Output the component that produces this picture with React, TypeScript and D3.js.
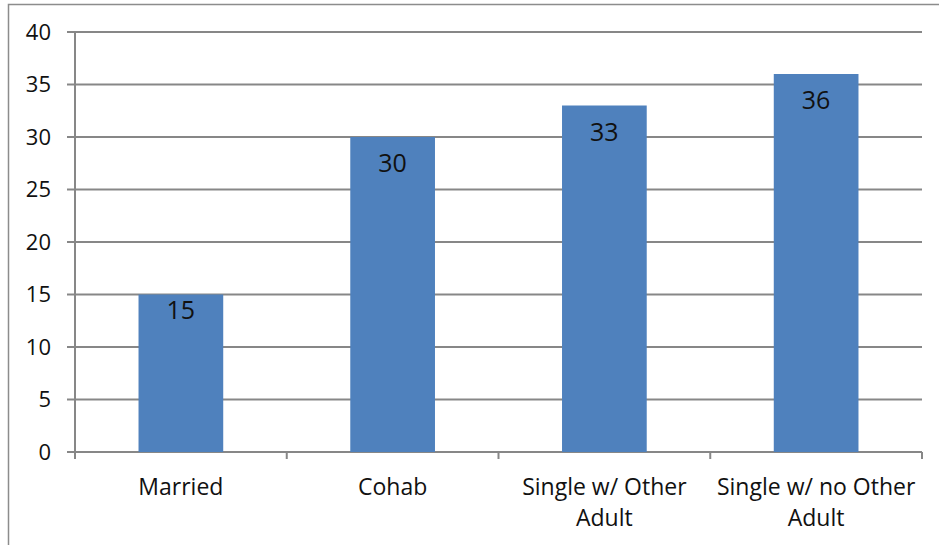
import React, { useEffect, useRef } from 'react';
import * as d3 from 'd3';

const categories = ['Married', 'Cohab', 'Single w/ Other Adult', 'Single w/ no Other Adult'];
const categoryLines = [['Married'], ['Cohab'], ['Single w/ Other', 'Adult'], ['Single w/ no Other', 'Adult']];
const values = [15, 30, 33, 36];
const yTicks = [0, 5, 10, 15, 20, 25, 30, 35, 40];

const W = 939;
const H = 545;
const FONT = '"Open Sans", "Noto Sans", sans-serif';

const App: React.FC = () => {
  const svgRef = useRef<SVGSVGElement>(null);

  useEffect(() => {
    if (!svgRef.current) return;
    const svg = d3.select(svgRef.current);
    svg.selectAll('*').remove();

    const left = 75;
    const right = 922;
    const top = 32;
    const bottom = 452;
    const axisColor = '#878787';

    // outer chart frame (runs off the right / bottom of the picture)
    svg.append('rect')
      .attr('x', 8.5).attr('y', 4.5)
      .attr('width', W + 20).attr('height', H + 20)
      .attr('fill', '#fff')
      .attr('stroke', '#8c8c8c')
      .attr('stroke-width', 1.5);

    const x = d3.scaleBand<string>().domain(categories).range([left, right]).padding(0);
    const y = d3.scaleLinear().domain([0, 40]).range([bottom, top]);

    const g = svg.append('g');

    // gridlines + y tick marks
    g.selectAll('line.grid')
      .data(yTicks)
      .enter()
      .append('line')
      .attr('class', 'grid')
      .attr('x1', left - 8)
      .attr('x2', right)
      .attr('y1', d => y(d))
      .attr('y2', d => y(d))
      .attr('stroke', axisColor)
      .attr('stroke-width', 2);

    // y axis line
    g.append('line')
      .attr('x1', left).attr('x2', left)
      .attr('y1', top).attr('y2', bottom + 7)
      .attr('stroke', axisColor)
      .attr('stroke-width', 2);

    // x tick marks at category boundaries
    const bounds = categories.map(c => x(c)! + x.bandwidth()).concat([left]);
    g.selectAll('line.xtick')
      .data(bounds)
      .enter()
      .append('line')
      .attr('class', 'xtick')
      .attr('x1', d => d).attr('x2', d => d)
      .attr('y1', bottom).attr('y2', bottom + 7)
      .attr('stroke', axisColor)
      .attr('stroke-width', 2);

    g.selectAll('text.ylab')
      .data(yTicks)
      .enter()
      .append('text')
      .attr('class', 'ylab')
      .attr('x', 51)
      .attr('y', d => y(d))
      .attr('dy', '0.36em')
      .attr('text-anchor', 'end')
      .style('font-family', FONT)
      .style('font-size', '22px')
      .style('fill', '#111')
      .text(d => d);

    // bars
    const barW = x.bandwidth() * 0.4;
    const bars = g.selectAll('g.bar')
      .data(values.map((v, i) => ({ v, c: categories[i] })))
      .enter()
      .append('g')
      .attr('class', 'bar');

    bars.append('rect')
      .attr('x', d => x(d.c)! + (x.bandwidth() - barW) / 2)
      .attr('y', d => y(d.v))
      .attr('width', barW)
      .attr('height', d => bottom - y(d.v))
      .attr('fill', '#4F81BD');

    bars.append('text')
      .attr('x', d => x(d.c)! + x.bandwidth() / 2)
      .attr('y', d => y(d.v) + (d.v < 20 ? 24 : 35))
      .attr('text-anchor', 'middle')
      .style('font-family', FONT)
      .style('font-size', '25px')
      .style('fill', '#111')
      .text(d => d.v);

    // category labels
    const cl = g.selectAll('text.xlab')
      .data(categories)
      .enter()
      .append('text')
      .attr('class', 'xlab')
      .attr('x', d => x(d)! + x.bandwidth() / 2)
      .attr('y', 495)
      .attr('text-anchor', 'middle')
      .style('font-family', FONT)
      .style('font-size', '23px')
      .style('fill', '#111');

    cl.selectAll('tspan')
      .data((d, i) => categoryLines[i])
      .enter()
      .append('tspan')
      .attr('x', function () {
        return (this.parentNode as SVGTextElement).getAttribute('x');
      })
      .attr('dy', (d, i) => (i === 0 ? 0 : 31))
      .text(d => d);
  }, []);

  return (
    <svg
      ref={svgRef}
      width={W}
      height={H}
      viewBox={`0 0 ${W} ${H}`}
      style={{ position: 'absolute', left: 0, top: 0, background: '#fff' }}
    />
  );
};

export default App;
